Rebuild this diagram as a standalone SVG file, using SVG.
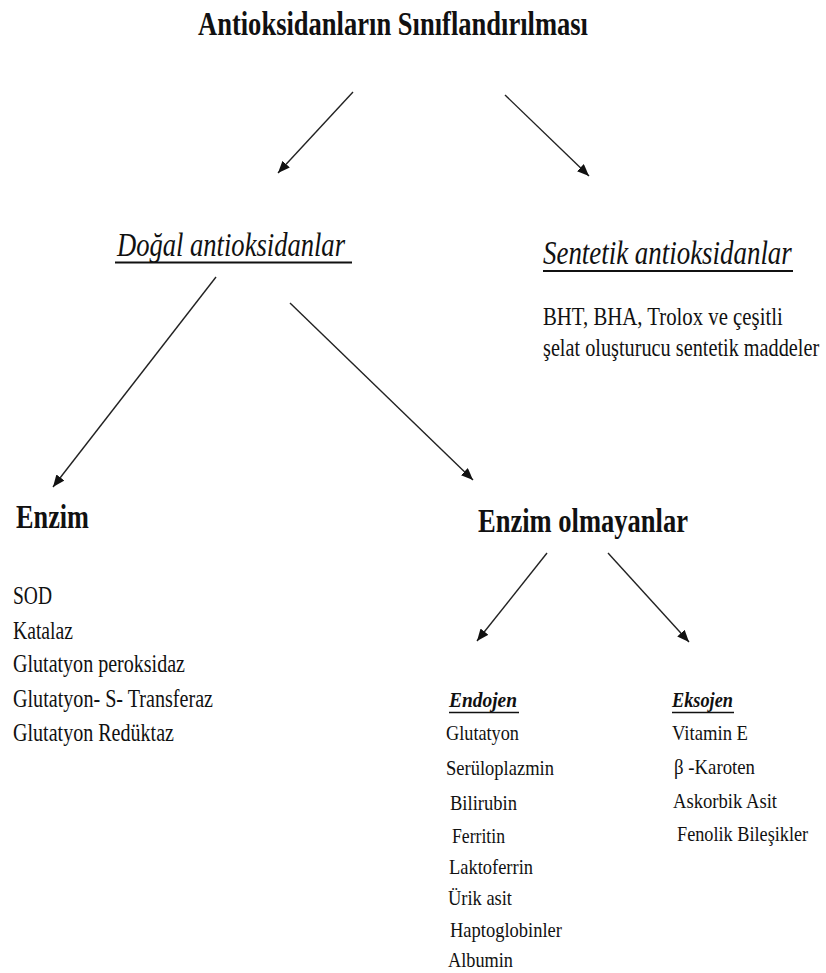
<svg xmlns="http://www.w3.org/2000/svg" width="826" height="973" viewBox="0 0 826 973" font-family="Liberation Serif">
<style>
.title{font-size:34px;font-weight:bold}
.h1{font-size:33px;font-style:italic}
.h2{font-size:34px;font-weight:bold}
.l{font-size:25px}
.s{font-size:22px}
.sh{font-size:22px;font-weight:bold;font-style:italic}
.ul{stroke:#111;fill:none}
.conn line{stroke:#222;stroke-width:1.4;marker-end:url(#ah)}
</style>
<defs>
<marker id="ah" markerUnits="userSpaceOnUse" viewBox="0 0 12 10" refX="12" refY="5" markerWidth="12" markerHeight="10" orient="auto">
<path d="M0,0 L12,5 L0,10 Z" fill="#111"/>
</marker>
</defs>
<rect width="826" height="973" fill="#fff"/>
<g fill="#111" font-family="Liberation Serif">

<g id="title">
<text class="title" x="198" y="35" textLength="390" lengthAdjust="spacingAndGlyphs">Antioksidanların Sınıflandırılması</text>
</g>

<g id="dogal">
<text class="h1" x="117" y="256" textLength="228" lengthAdjust="spacingAndGlyphs">Doğal antioksidanlar</text>
<line class="ul" x1="115" y1="262.5" x2="352" y2="262.5" stroke-width="2"/>
</g>

<g id="sentetik">
<text class="h1" transform="translate(543,264) scale(0.8,1)" x="0" y="0" textLength="311" lengthAdjust="spacingAndGlyphs">Sentetik antioksidanlar</text>
<line class="ul" x1="543" y1="271" x2="793" y2="271" stroke-width="2"/>
<text class="l" transform="translate(543,325) scale(0.81,1)" x="0" y="0" textLength="296" lengthAdjust="spacingAndGlyphs">BHT, BHA, Trolox ve çeşitli</text>
<text class="l" transform="translate(543,356) scale(0.81,1)" x="0" y="0" textLength="341" lengthAdjust="spacingAndGlyphs">şelat oluşturucu sentetik maddeler</text>
</g>

<g id="enzim">
<text class="h2" x="16" y="528" textLength="73" lengthAdjust="spacingAndGlyphs">Enzim</text>
<text class="l" x="13" y="604" textLength="39" lengthAdjust="spacingAndGlyphs">SOD</text>
<text class="l" x="13" y="639" textLength="60" lengthAdjust="spacingAndGlyphs">Katalaz</text>
<text class="l" x="13" y="672" textLength="172" lengthAdjust="spacingAndGlyphs">Glutatyon peroksidaz</text>
<text class="l" x="13" y="707" textLength="200" lengthAdjust="spacingAndGlyphs">Glutatyon- S- Transferaz</text>
<text class="l" x="13" y="741" textLength="161" lengthAdjust="spacingAndGlyphs">Glutatyon Redüktaz</text>
</g>

<g id="enzim-olmayanlar">
<text class="h2" x="478" y="532" textLength="210" lengthAdjust="spacingAndGlyphs">Enzim olmayanlar</text>
</g>

<g id="endojen">
<text class="sh" x="449" y="707" textLength="68" lengthAdjust="spacingAndGlyphs">Endojen</text>
<line class="ul" x1="449" y1="712.5" x2="519" y2="712.5" stroke-width="1.5"/>
<text class="s" x="446" y="740" textLength="73" lengthAdjust="spacingAndGlyphs">Glutatyon</text>
<text class="s" x="446" y="775" textLength="108" lengthAdjust="spacingAndGlyphs">Serüloplazmin</text>
<text class="s" x="450" y="810" textLength="67" lengthAdjust="spacingAndGlyphs">Bilirubin</text>
<text class="s" x="452" y="843" textLength="53" lengthAdjust="spacingAndGlyphs">Ferritin</text>
<text class="s" x="449" y="874" textLength="84" lengthAdjust="spacingAndGlyphs">Laktoferrin</text>
<text class="s" x="448" y="905" textLength="64" lengthAdjust="spacingAndGlyphs">Ürik asit</text>
<text class="s" x="450" y="937" textLength="112" lengthAdjust="spacingAndGlyphs">Haptoglobinler</text>
<text class="s" x="448" y="967" textLength="65" lengthAdjust="spacingAndGlyphs">Albumin</text>
</g>

<g id="eksojen">
<text class="sh" x="672" y="707" textLength="61" lengthAdjust="spacingAndGlyphs">Eksojen</text>
<line class="ul" x1="672" y1="712.5" x2="734" y2="712.5" stroke-width="1.5"/>
<text class="s" x="672" y="740" textLength="76" lengthAdjust="spacingAndGlyphs">Vitamin E</text>
<text class="s" x="674" y="774" textLength="81" lengthAdjust="spacingAndGlyphs">β -Karoten</text>
<text class="s" x="673" y="808" textLength="104" lengthAdjust="spacingAndGlyphs">Askorbik Asit</text>
<text class="s" transform="translate(677,841) scale(0.83,1)" x="0" y="0" textLength="158" lengthAdjust="spacingAndGlyphs">Fenolik Bileşikler</text>
</g>
</g>

<g id="connectors" class="conn">
<line x1="353" y1="92" x2="278" y2="173"/>
<line x1="505" y1="95" x2="589" y2="176"/>
<line x1="216" y1="277" x2="53" y2="487"/>
<line x1="290" y1="303" x2="473" y2="480"/>
<line x1="547" y1="553" x2="477" y2="641"/>
<line x1="608" y1="553" x2="689" y2="642"/>
</g>
</svg>
